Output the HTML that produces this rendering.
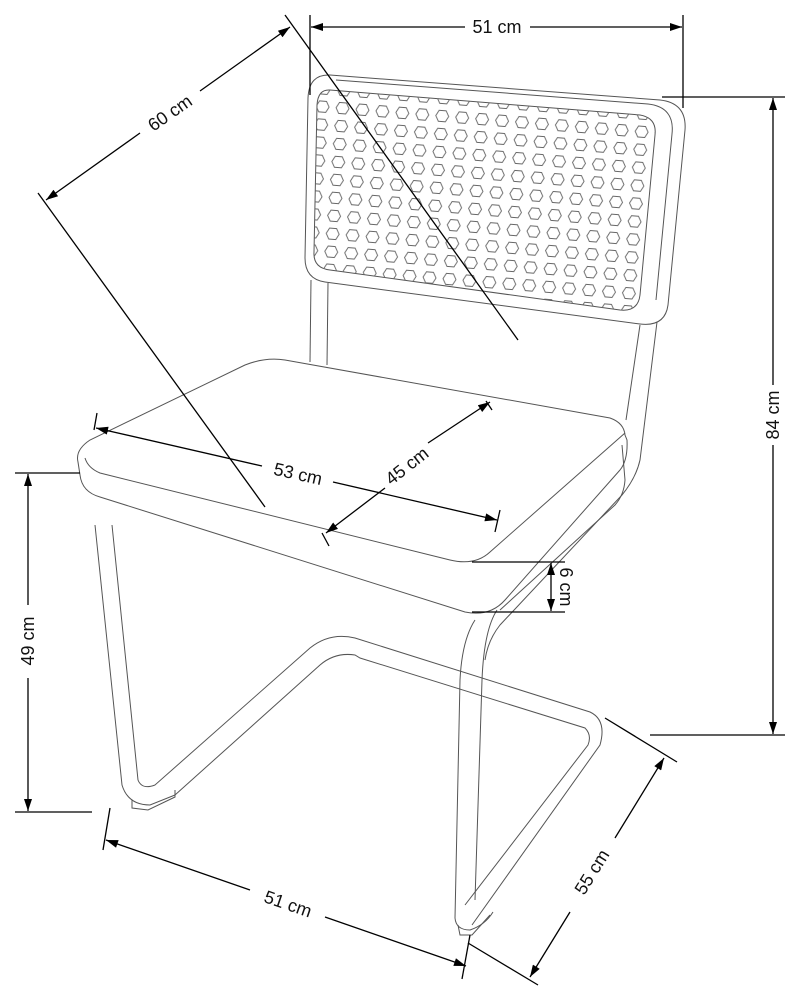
<!DOCTYPE html>
<html><head><meta charset="utf-8"><style>
html,body{margin:0;padding:0;background:#fff;}
svg{display:block;}
text{font-family:"Liberation Sans",sans-serif;font-size:18px;fill:#111;}
</style></head><body>
<svg width="800" height="999" viewBox="0 0 800 999" xmlns="http://www.w3.org/2000/svg">
<defs>
<marker id="a" viewBox="0 0 12 8" refX="12" refY="4" markerWidth="13" markerHeight="8" markerUnits="userSpaceOnUse" orient="auto-start-reverse"><path d="M0,0 L12,4 L0,8 z" fill="#000"/></marker>
<pattern id="hex" width="20" height="18" patternUnits="userSpaceOnUse" patternTransform="rotate(4.5)">
<polygon points="3.5,9 6.5,3.5 13.5,3.5 16.5,9 13.5,14.5 6.5,14.5" fill="none" stroke="#666" stroke-width="0.9"/>
</pattern>
<clipPath id="pc"><path d="M330,90 L640,115 Q657,118 655,135 L640,295 Q638,312 620,310 L330,270 Q313,268 314,252 L317,105 Q318,89 330,90 Z"/></clipPath>
</defs>
<g fill="none" stroke="#555" stroke-width="1">
<path d="M330,75 L660,100 Q687,103 685,130 L668,305 Q665,327 640,324 L325,282 Q305,279 305,258 L308,98 Q309,74 330,75 Z"/>
<path d="M336,80 L648,104 Q675,107 672,134 L656,300"/>
<path d="M330,90 L640,115 Q657,118 655,135 L640,295 Q638,312 620,310 L330,270 Q313,268 314,252 L317,105 Q318,89 330,90 Z"/>
<rect x="300" y="80" width="380" height="240" fill="url(#hex)" clip-path="url(#pc)" stroke="none"/>
<path d="M311,280 L310,362"/><path d="M328,283 L327,365"/>
<path d="M640,325 L626,420"/><path d="M657,322 L640,460 Q636,478 622,495 L500,625 Q488,640 485,660"/>
<path d="M90,440 Q75,450 78,462 L80,475 Q82,492 100,497 L465,612 Q490,617 505,600 L620,470 Q628,460 627,440 L625,435 Q624,423 610,418 L285,360 Q265,357 245,365 L90,440 Z"/>
<path d="M85,458 Q88,468 100,473 L450,560 Q475,566 490,552 L625,433"/>
<path d="M622,445 L625,480 Q624,495 615,505 L500,610"/>
<path d="M95,525 L122,785 Q128,805 150,805 L175,795"/>
<path d="M112,525 L138,780 Q142,790 155,785 L310,648 Q330,632 355,638 L590,712 Q607,720 600,745 L472,925"/>
<path d="M175,795 L320,665 Q335,652 355,655 L360,658 L585,728 Q592,735 588,745 L465,905"/>
<path d="M132,800 L132,808 L148,810 L175,797 L175,790"/>
<path d="M475,620 Q462,640 460,680 L455,918 Q456,930 470,930 Q485,925 493,912"/>
<path d="M497,610 Q484,630 482,680 L475,900"/>
<path d="M458,925 L460,935 L472,935 L490,915"/>
</g>
<g stroke="#000" stroke-width="1.3" fill="none">
<line x1="310" y1="15" x2="310" y2="95"/><line x1="683" y1="15" x2="683" y2="108"/>
<line x1="311" y1="27" x2="465" y2="27" marker-start="url(#a)"/><line x1="530" y1="27" x2="682" y2="27" marker-end="url(#a)"/>
<line x1="662" y1="97" x2="785" y2="97"/><line x1="650" y1="735" x2="785" y2="735"/>
<line x1="773" y1="98" x2="773" y2="385" marker-start="url(#a)"/><line x1="773" y1="445" x2="773" y2="734" marker-end="url(#a)"/>
<line x1="15" y1="473" x2="80" y2="473"/><line x1="15" y1="812" x2="92" y2="812"/>
<line x1="28" y1="474" x2="28" y2="605" marker-start="url(#a)"/><line x1="28" y1="678" x2="28" y2="811" marker-end="url(#a)"/>
<line x1="38" y1="193" x2="265" y2="507"/><line x1="285" y1="15" x2="518" y2="340"/>
<line x1="46" y1="200" x2="140" y2="133" marker-start="url(#a)"/><line x1="200" y1="91" x2="290" y2="27" marker-end="url(#a)"/>
<line x1="97" y1="413" x2="94" y2="430"/><line x1="500" y1="510" x2="495" y2="532"/>
<line x1="96" y1="428" x2="262" y2="466" marker-start="url(#a)"/><line x1="333" y1="482" x2="497" y2="520" marker-end="url(#a)"/>
<path d="M322,533 L329,546"/><path d="M486,401 L492,410"/>
<line x1="326" y1="533" x2="385" y2="488" marker-start="url(#a)"/><line x1="428" y1="443" x2="490" y2="402" marker-end="url(#a)"/>
<line x1="472" y1="562" x2="565" y2="562"/><line x1="472" y1="612" x2="565" y2="612"/>
<line x1="551" y1="563" x2="551" y2="611" marker-start="url(#a)" marker-end="url(#a)"/>
<line x1="110" y1="808" x2="103" y2="850"/><line x1="470" y1="935" x2="462" y2="979"/>
<line x1="106" y1="840" x2="250" y2="890" marker-start="url(#a)"/><line x1="325" y1="917" x2="466" y2="966" marker-end="url(#a)"/>
<line x1="605" y1="718" x2="677" y2="762"/><line x1="468" y1="943" x2="538" y2="985"/>
<line x1="530" y1="977" x2="570" y2="912" marker-start="url(#a)"/><line x1="615" y1="838" x2="664" y2="758" marker-end="url(#a)"/>
</g>
<g text-anchor="middle" dominant-baseline="central">
<text x="497" y="27">51 cm</text>
<text transform="translate(773,415) rotate(-90)">84 cm</text>
<text transform="translate(28,641) rotate(-90)">49 cm</text>
<text transform="translate(170,113) rotate(-35)">60 cm</text>
<text transform="translate(298,474) rotate(12.5)">53 cm</text>
<text transform="translate(407,466) rotate(-38)">45 cm</text>
<text transform="translate(566,587) rotate(90)">6 cm</text>
<text transform="translate(288,904) rotate(19)">51 cm</text>
<text transform="translate(592,872) rotate(-58)">55 cm</text>
</g>
</svg>
</body></html>
